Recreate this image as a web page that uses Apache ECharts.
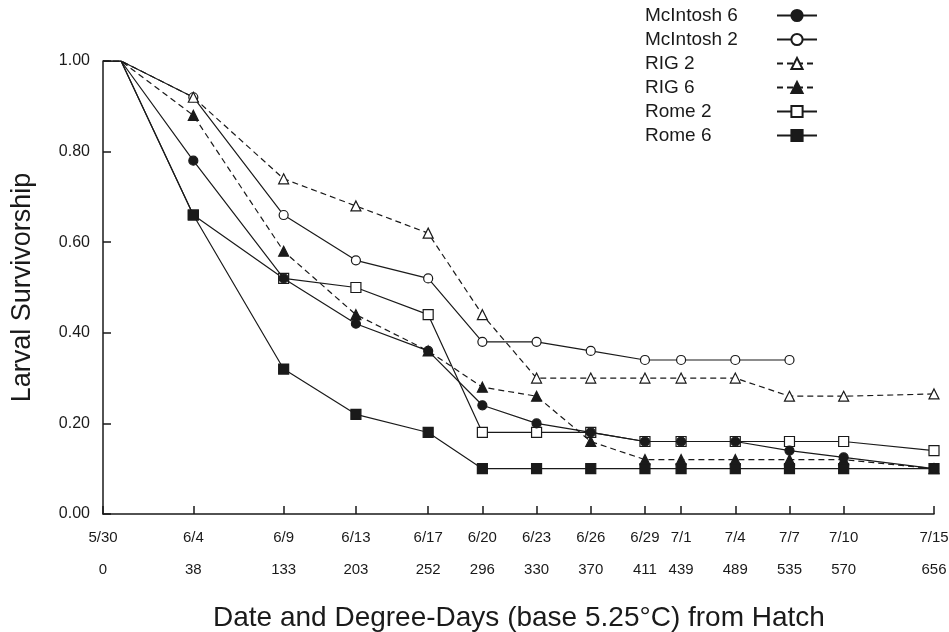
<!DOCTYPE html>
<html>
<head>
	<meta charset="utf-8">
	<title>Larval Survivorship</title>
	<script src="https://cdn.jsdelivr.net/npm/echarts@6/dist/echarts.min.js"></script>
	<style>
		html,body{margin:0;padding:0;background:#fff;}
		#main{width:949px;height:632px;}
	</style>
</head>
<body>
<div id="main"></div>
<script type="text/javascript">
	// days after 5/30 for each sample
	var days=[0,1,5,10,14,18,21,24,27,30,32,35,38,41,46];
	// tick positions and the two label rows under the x axis
	var tickDays=[0,5,10,14,18,21,24,27,30,32,35,38,41,46];
	var dateLabels=['5/30','6/4','6/9','6/13','6/17','6/20','6/23','6/26','6/29','7/1','7/4','7/7','7/10','7/15'];
	var ddLabels=['0','38','133','203','252','296','330','370','411','439','489','535','570','656'];

	var mcintosh6=[1,1,0.78,0.52,0.42,0.36,0.24,0.20,0.18,0.16,0.16,0.16,0.14,0.125,0.10];
	var mcintosh2=[1,1,0.92,0.66,0.56,0.52,0.38,0.38,0.36,0.34,0.34,0.34,0.34,null,null];
	var rig2=[1,1,0.92,0.74,0.68,0.62,0.44,0.30,0.30,0.30,0.30,0.30,0.26,0.26,0.265];
	var rig6=[1,1,0.88,0.58,0.44,0.36,0.28,0.26,0.16,0.12,0.12,0.12,0.12,0.12,0.10];
	var rome2=[1,1,0.66,0.52,0.50,0.44,0.18,0.18,0.18,0.16,0.16,0.16,0.16,0.16,0.14];
	var rome6=[1,1,0.66,0.32,0.22,0.18,0.10,0.10,0.10,0.10,0.10,0.10,0.10,0.10,0.10];

	var font='Liberation Sans';
	var ink='#1a1a1a';

	function pts(vals){
		var out=[];
		for(var i=0;i<vals.length;i++){
			if(vals[i]===null) continue;
			var p={value:[days[i],vals[i]]};
			if(i<2) p.symbol='none';
			out.push(p);
		}
		return out;
	}

	function makeSeries(name,vals,symbol,filled,dashed,z){
		return {
			name:name,
			type:'line',
			z:z,
			data:pts(vals),
			symbol:symbol,
			symbolSize:symbol==='circle'?9:10,
			lineStyle:{color:ink,width:1.2,type:dashed?[6,4]:'solid'},
			itemStyle:{color:filled?ink:'#fff',borderColor:ink,borderWidth:1.2},
			emphasis:{disabled:true},
			animation:false
		};
	}

	var myChart=echarts.init(document.getElementById('main'));

	var option={
		backgroundColor:'#fff',
		textStyle:{fontFamily:font},
		grid:{left:103,right:15,top:61,bottom:118,outerBoundsMode:'none',containLabel:false},
		title:{
			text:'Date and Degree-Days (base 5.25°C) from Hatch',
			left:213,
			top:604,
			padding:0,
			textStyle:{fontFamily:font,fontSize:28,fontWeight:'normal',color:ink}
		},
		legend:{
			orient:'vertical',
			left:645,
			top:6,
			padding:0,
			align:'right',
			itemWidth:40,
			itemHeight:14,
			itemGap:5,
			data:['McIntosh 6','McIntosh 2','RIG 2','RIG 6','Rome 2','Rome 6'],
			formatter:function(n){return '{t|'+n+'}';},
			textStyle:{
				rich:{t:{width:127,align:'left',fontSize:19,lineHeight:14,fontFamily:font,color:ink}}
			}
		},
		xAxis:{
			type:'value',
			min:0,
			max:46,
			axisLine:{show:true,lineStyle:{color:ink,width:1.5}},
			axisTick:{show:true,inside:true,length:8,customValues:tickDays,lineStyle:{color:ink,width:1.5}},
			splitLine:{show:false},
			axisLabel:{
				customValues:tickDays,
				margin:8,
				hideOverlap:false,
				showMinLabel:true,
				showMaxLabel:true,
				formatter:function(v){
					var i=tickDays.indexOf(v);
					return '{d|'+dateLabels[i]+'}\n{n|'+ddLabels[i]+'}';
				},
				rich:{
					d:{fontSize:15,lineHeight:32,fontFamily:font,color:ink},
					n:{fontSize:15,lineHeight:32,fontFamily:font,color:ink}
				}
			}
		},
		yAxis:{
			type:'value',
			min:0,
			max:1,
			interval:0.2,
			name:'Larval Survivorship',
			nameLocation:'middle',
			nameGap:67,
			nameTextStyle:{fontFamily:font,fontSize:27,color:ink},
			axisLine:{show:true,lineStyle:{color:ink,width:1.5}},
			axisTick:{show:true,inside:true,length:8,lineStyle:{color:ink,width:1.5}},
			splitLine:{show:false},
			axisLabel:{
				margin:13,
				fontSize:16,
				fontFamily:font,
				color:ink,
				formatter:function(v){return v.toFixed(2);}
			}
		},
		series:[
			makeSeries('McIntosh 6',mcintosh6,'circle',true,false,4),
			makeSeries('McIntosh 2',mcintosh2,'circle',false,false,2),
			makeSeries('RIG 2',rig2,'triangle',false,true,2),
			makeSeries('RIG 6',rig6,'triangle',true,true,3),
			makeSeries('Rome 2',rome2,'rect',false,false,2),
			makeSeries('Rome 6',rome6,'rect',true,false,3)
		]
	};
	myChart.setOption(option);
</script>
</body>
</html>
